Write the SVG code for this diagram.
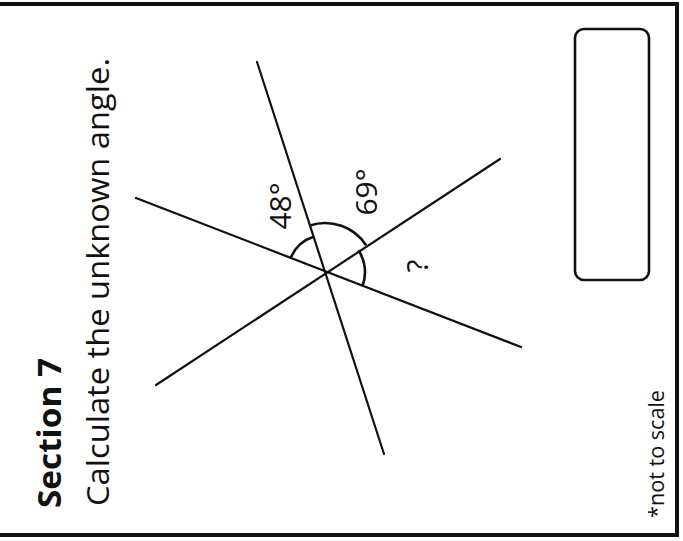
<svg xmlns="http://www.w3.org/2000/svg" width="683" height="541" viewBox="0 0 683 541">
<style>
.t{font-family:"Open Sans","Noto Sans","DejaVu Sans",sans-serif;fill:#111}
.ln{stroke:#111;stroke-width:2.2;fill:none;stroke-linecap:round}
.arc{stroke:#111;stroke-width:2.6;fill:none}
</style>
<rect x="0" y="0" width="683" height="541" fill="#fff"/>
<g id="frame">
<path d="M0,4 H677 V535 H0" fill="none" stroke="#111" stroke-width="4"/>
</g>
<g id="title">
<text class="t" transform="translate(61,508) rotate(-90)" font-size="32" font-weight="bold" textLength="150" lengthAdjust="spacingAndGlyphs">Section 7</text>
<text class="t" transform="translate(109,506) rotate(-90)" font-size="31" textLength="448" lengthAdjust="spacingAndGlyphs">Calculate the unknown angle.</text>
</g>
<g id="connectors">
<line class="ln" x1="257" y1="62" x2="384" y2="454"/>
<line class="ln" x1="136" y1="198" x2="521" y2="347"/>
<line class="ln" x1="156" y1="385" x2="500" y2="159"/>
</g>
<g id="angles">
<path class="arc" d="M290.5,258.5 A37,37 0 0 1 313.6,236.8"/>
<path class="arc" d="M309.9,225.4 A49,49 0 0 1 366.1,245.3"/>
<path class="arc" d="M358.5,250.2 A40,40 0 0 1 362.3,286.5"/>
</g>
<g id="labels">
<text class="t" transform="translate(291,206) rotate(-90)" font-size="30" text-anchor="middle">48°</text>
<text class="t" transform="translate(377,192) rotate(-90)" font-size="30" text-anchor="middle">69°</text>
<text class="t" transform="translate(428,266) rotate(-90)" font-size="30" text-anchor="middle">?</text>
</g>
<g id="answer-box">
<rect x="575" y="29" width="74" height="251" rx="9" fill="none" stroke="#111" stroke-width="2.6"/>
</g>
<g id="note">
<text class="t" transform="translate(664,518) rotate(-90)" font-size="22" textLength="128" lengthAdjust="spacingAndGlyphs">*not to scale</text>
</g>
</svg>
